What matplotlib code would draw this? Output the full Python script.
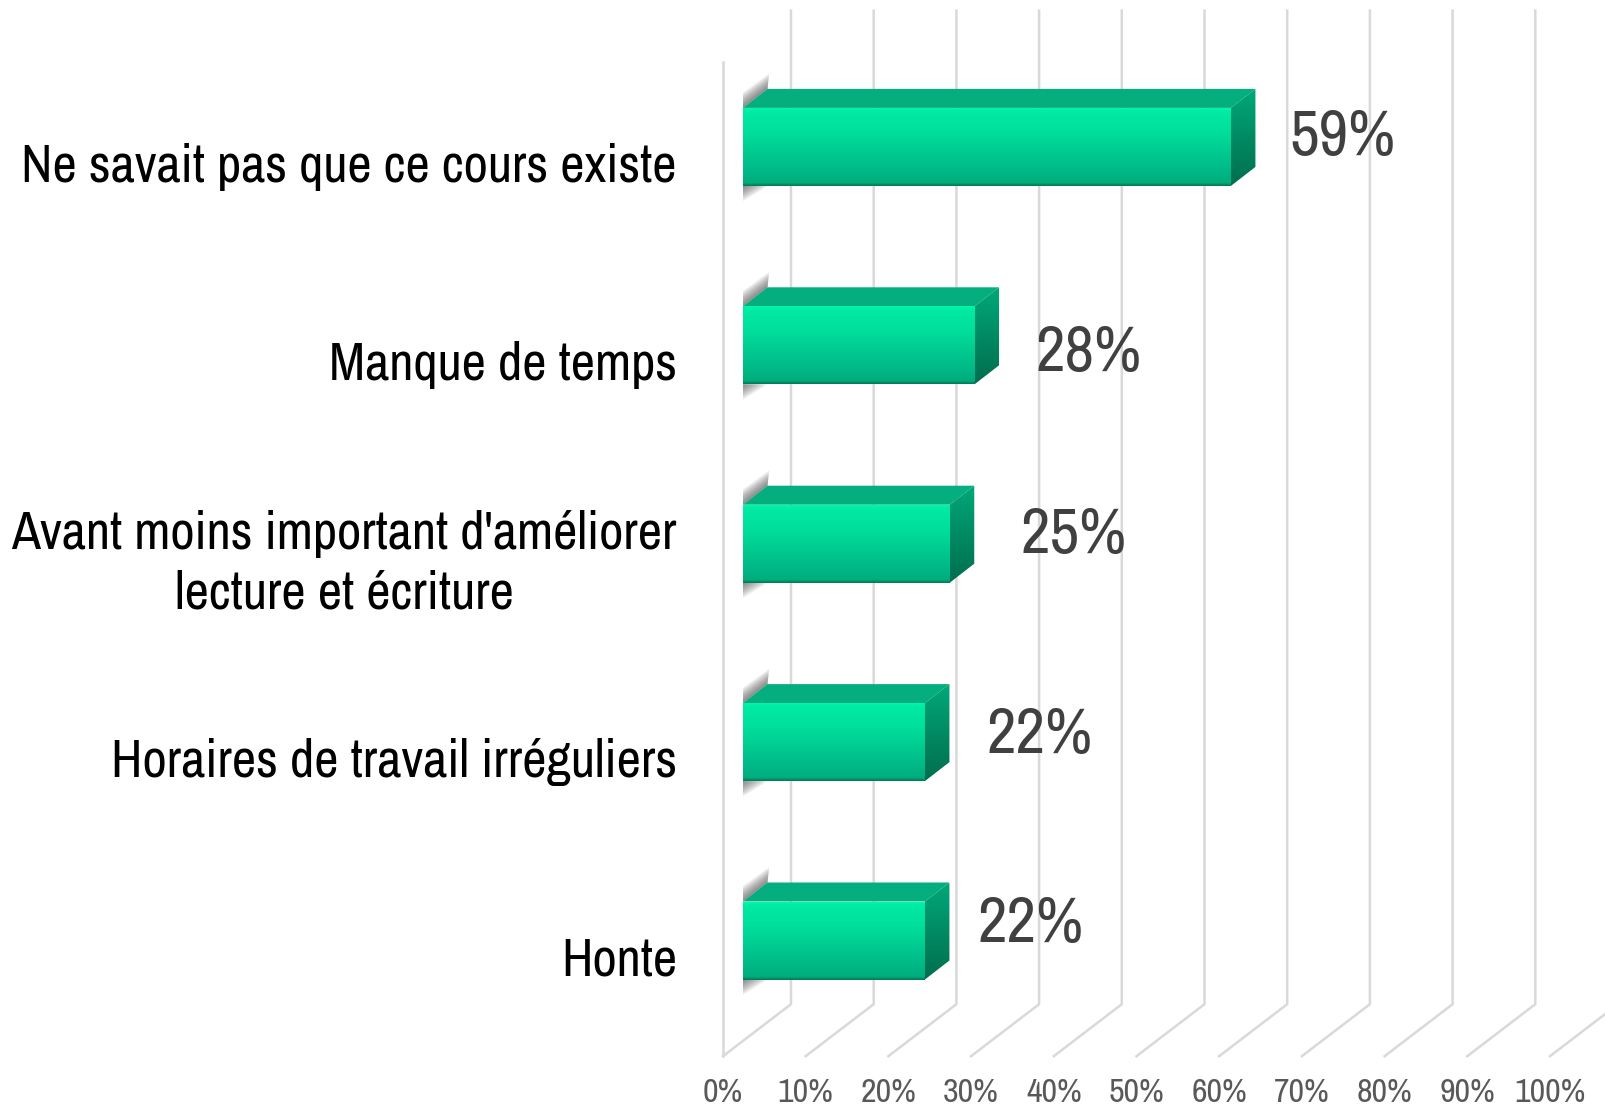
import matplotlib
matplotlib.use("Agg")
import matplotlib.pyplot as plt
from matplotlib.colors import LinearSegmentedColormap
from matplotlib.patches import Polygon
import numpy as np

categories = [
    "Ne savait pas que ce cours existe",
    "Manque de temps",
    "Avant moins important d'améliorer\nlecture et écriture",
    "Horaires de travail irréguliers",
    "Honte",
]
values = [59, 28, 25, 22, 22]
value_labels = ["59%", "28%", "25%", "22%", "22%"]
tick_values = [0, 10, 20, 30, 40, 50, 60, 70, 80, 90, 100]
tick_labels = ["0%", "10%", "20%", "30%", "40%", "50%", "60%", "70%", "80%", "90%", "100%"]

# hand placed labels, pixels from the bar end / centre
label_dx = [112, 114, 124, 115, 106]
label_dy = [10, -8, 9, 7, 17]

W, H = 1606, 1109
plt.rcParams["font.family"] = ["Archivo Narrow", "Liberation Sans", "DejaVu Sans"]

fig = plt.figure(figsize=(W / 100, H / 100), dpi=100)
# axes box: 0-100 is 827px wide from x=743, one category is 198.4px high
ax = fig.add_axes([743 / W, 1 - 1039.7 / H, 827 / W, 992 / H])
ax.axis("off")

px_x = 100 / 827
px_y = 1 / 198.4
half = 39 * px_y
depth_x = 24.5 * px_x
depth_y = 19 * px_y

# walls and floor lines of the 3d box
grid = "#d9d9d9"
floor_front = 4.583
floor_back = 4.321
wall_top = -0.687
front_dx = -20 * px_x
back_dx = 48 * px_x
for v in tick_values:
    ax.plot([v + front_dx, v + back_dx, v + back_dx], [floor_front, floor_back, wall_top],
            color=grid, lw=1.8, clip_on=False, zorder=1, solid_joinstyle="miter")
ax.plot([front_dx, front_dx], [floor_front, -0.43], color=grid, lw=1.8, clip_on=False, zorder=1)

front_cm = LinearSegmentedColormap.from_list("front", [
    (0, "#00f5ab"), (0.04, "#00eba4"), (0.3, "#00df9c"), (0.8, "#00b987"), (0.96, "#00ad7c"), (1, "#007a57")])
side_cm = LinearSegmentedColormap.from_list("side", ["#00a878", "#006e4e"])
grad = np.linspace(0, 1, 128).reshape(-1, 1)

bars = ax.barh(range(len(values)), values, height=2 * half, color="none", zorder=4)

for i, (v, bar) in enumerate(zip(values, bars)):
    top = i - half
    bot = i + half

    # soft shadow behind the left end of the bar
    for k in range(1, 9):
        s = k * 1.9 * px_y
        ax.add_patch(Polygon([(0, top), (depth_x, top - depth_y), (depth_x + 0.2 * k * px_x, top - depth_y - s),
                              (0, top - s)], closed=True, fc="#444444", ec="none", alpha=0.1, zorder=2, clip_on=False))
        ax.add_patch(Polygon([(0, bot), (depth_x * k / 8, bot), (0, bot + s)], closed=True,
                             fc="#444444", ec="none", alpha=0.1, zorder=2, clip_on=False))

    # top face
    ax.add_patch(Polygon([(0, top), (depth_x, top - depth_y), (v + depth_x, top - depth_y), (v, top)],
                         closed=True, fc="#04ae7e", ec="none", zorder=3, clip_on=False))

    # right face
    side = Polygon([(v, top), (v + depth_x, top - depth_y), (v + depth_x, bot - depth_y), (v, bot)],
                   closed=True, transform=ax.transData, fc="none", ec="none")
    ax.add_patch(side)
    im = ax.imshow(grad, cmap=side_cm, aspect="auto", zorder=3, clip_on=True,
                   extent=(v, v + depth_x, bot, top - depth_y), interpolation="bilinear")
    im.set_clip_path(side)

    # front face
    im = ax.imshow(grad, cmap=front_cm, aspect="auto", zorder=4,
                   extent=(0, v, bot, top), interpolation="bilinear")
    im.set_clip_path(bar)

    ax.annotate(value_labels[i], xy=(v, i), xycoords="data", xytext=(label_dx[i], label_dy[i]),
                textcoords="offset pixels", ha="center", va="center", color="#404040",
                fontsize=46.5, zorder=6, annotation_clip=False)
    ax.annotate(categories[i], xy=(0, i), xycoords="data", xytext=(-66, -20),
                textcoords="offset pixels", ha="right", va="center", multialignment="center",
                color="#000000", fontsize=38.2, linespacing=1.28, zorder=6, annotation_clip=False)

for v, lab in zip(tick_values, tick_labels):
    ax.text(v + front_dx, 4.77, lab, ha="center", va="center", color="#595959",
            fontsize=24.5, clip_on=False)

ax.set_xlim(0, 100)
ax.set_ylim(4.5, -0.5)

fig.savefig("out.png", dpi=100, facecolor="white")
